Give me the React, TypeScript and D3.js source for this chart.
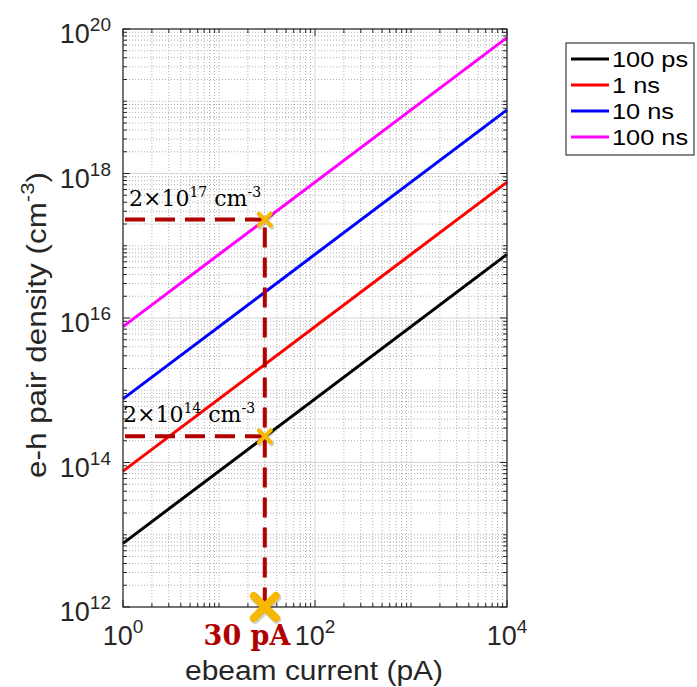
import React from "react";
import * as d3 from "d3";

const xDomain = [1, 10000];
const yDomain = [1e12, 1e20];
const currents = [1, 10000];
const seriesNames = ["100 ps", "1 ns", "10 ns", "100 ns"];
const seriesColors = ["#000000", "#ff0000", "#0000ff", "#ff00ff"];
const seriesValues = [
  [7.6e12, 7.6e16],
  [7.6e13, 7.6e17],
  [7.6e14, 7.6e18],
  [7.6e15, 7.6e19],
];
const xTickExps = [0, 2, 4];
const yTickExps = [12, 14, 16, 18, 20];
const markerCurrent = 30;
const markerDensities = [2.3e17, 2.3e14];
const markerLabels = [["2×10", "17", " cm", "-3"], ["2×10", "14", " cm", "-3"]];
const currentLabel = "30 pA";

const W = 697, H = 687;
const L = 123, R = 507, T = 29, B = 607;
const sans = "'Liberation Sans', Arial, Helvetica, sans-serif";
const serif = "'DejaVu Serif', 'Liberation Serif', serif";
const axisColor = "#262626";
const annColor = "#b00000";
const gold = "#f6b800";

export default function App() {
  const x = d3.scaleLog().domain(xDomain).range([L, R]);
  const y = d3.scaleLog().domain(yDomain).range([B, T]);
  const line = d3
    .line<[number, number]>()
    .x((d) => x(d[0]))
    .y((d) => y(d[1]));

  const xMinor: number[] = [];
  for (let e = 0; e < 4; e++) for (let k = 1; k <= 9; k++) xMinor.push(k * Math.pow(10, e));
  xMinor.push(1e4);
  const yMinor: number[] = [];
  for (let e = 12; e < 20; e++) for (let k = 1; k <= 9; k++) yMinor.push(k * Math.pow(10, e));
  yMinor.push(1e20);
  const xMajorVals = xTickExps.map((e) => Math.pow(10, e));
  const yMajorVals = yTickExps.map((e) => Math.pow(10, e));
  const isMajX = (v: number) => xMajorVals.some((m) => Math.abs(m - v) / m < 1e-9);
  const isMajY = (v: number) => yMajorVals.some((m) => Math.abs(m - v) / m < 1e-9);

  const cross = (cx: number, cy: number, s: number, w: number, key: string) => (
    <g key={key}>
      <path
        d={`M${cx - s + 1},${cy - s + 1.5}L${cx + s + 1},${cy + s + 1.5}M${cx - s + 1},${cy + s + 1.5}L${cx + s + 1},${cy - s + 1.5}`}
        stroke="rgba(0,0,0,0.18)"
        strokeWidth={w + 1}
        strokeLinecap="round"
      />
      <path
        d={`M${cx - s},${cy - s}L${cx + s},${cy + s}M${cx - s},${cy + s}L${cx + s},${cy - s}`}
        stroke={gold}
        strokeWidth={w}
        strokeLinecap="round"
      />
    </g>
  );

  const xm = x(markerCurrent);

  return (
    <svg
      width={W}
      height={H}
      style={{ position: "absolute", left: 0, top: 0, background: "#fff" }}
      fontFamily={sans}
    >
      <rect x={0} y={0} width={W} height={H} fill="#fff" />
      {/* grid */}
      <g>
        {xMinor.filter((v) => !isMajX(v)).map((v, i) => (
          <line key={"xm" + i} x1={x(v)} x2={x(v)} y1={T} y2={B} stroke="#b0b0b0" strokeWidth={1} strokeDasharray="1,2" />
        ))}
        {yMinor.filter((v) => !isMajY(v)).map((v, i) => (
          <line key={"ym" + i} x1={L} x2={R} y1={y(v)} y2={y(v)} stroke="#b0b0b0" strokeWidth={1} strokeDasharray="1,2" />
        ))}
        {xMajorVals.map((v, i) => (
          <line key={"xM" + i} x1={x(v)} x2={x(v)} y1={T} y2={B} stroke="#d6d6d6" strokeWidth={1} />
        ))}
        {yMajorVals.map((v, i) => (
          <line key={"yM" + i} x1={L} x2={R} y1={y(v)} y2={y(v)} stroke="#d6d6d6" strokeWidth={1} />
        ))}
      </g>
      {/* ticks */}
      <g stroke={axisColor} strokeWidth={1}>
        {xMinor.map((v, i) => {
          const len = isMajX(v) ? 7 : 4;
          return (
            <g key={"xt" + i}>
              <line x1={x(v)} x2={x(v)} y1={B} y2={B - len} />
              <line x1={x(v)} x2={x(v)} y1={T} y2={T + len} />
            </g>
          );
        })}
        {yMinor.map((v, i) => {
          const len = isMajY(v) ? 7 : 4;
          return (
            <g key={"yt" + i}>
              <line x1={L} x2={L + len} y1={y(v)} y2={y(v)} />
              <line x1={R} x2={R - len} y1={y(v)} y2={y(v)} />
            </g>
          );
        })}
      </g>
      {/* data lines */}
      {seriesValues.map((vals, i) => (
        <path
          key={"s" + i}
          d={line(currents.map((c, j) => [c, vals[j]] as [number, number])) || ""}
          stroke={seriesColors[i]}
          strokeWidth={3}
          fill="none"
        />
      ))}
      {/* axes box */}
      <rect x={L} y={T} width={R - L} height={B - T} fill="none" stroke={axisColor} strokeWidth={1.2} />
      {/* annotations */}
      <g stroke={annColor} strokeWidth={4} strokeDasharray="20,10" fill="none">
        {markerDensities.map((d, i) => (
          <line key={"h" + i} x1={L + 2} x2={xm} y1={y(d)} y2={y(d)} />
        ))}
        <line x1={xm} x2={xm} y1={y(markerDensities[0]) + 8} y2={B - 4} />
      </g>
      {markerDensities.map((d, i) => cross(xm, y(d), 6, 4, "c" + i))}
      {cross(xm, B, 11, 8, "cb")}
      {markerLabels.map((lab, i) => (
        <text key={"ml" + i} x={i === 0 ? 129 : 123} y={y(markerDensities[i]) - 14} fontFamily={serif} fontSize={22} fill="#000">
          {lab[0]}
          <tspan fontSize={14} dy={-9}>{lab[1]}</tspan>
          <tspan dy={9}>{lab[2]}</tspan>
          <tspan fontSize={14} dy={-9}>{lab[3]}</tspan>
        </text>
      ))}
      <text x={247} y={645} textAnchor="middle" fontFamily={serif} fontWeight="bold" fontSize={27} fill={annColor}>
        {currentLabel}
      </text>
      {/* x tick labels */}
      {xTickExps.map((e, i) => (
        <text key={"xl" + i} x={x(Math.pow(10, e))} y={645} textAnchor="middle" fontSize={27} fill={axisColor}>
          10<tspan fontSize={19} dy={-12}>{e}</tspan>
        </text>
      ))}
      {/* y tick labels */}
      {yTickExps.map((e, i) => (
        <text key={"yl" + i} x={111} y={y(Math.pow(10, e)) + 14} textAnchor="end" fontSize={27} fill={axisColor}>
          10<tspan fontSize={19} dy={-12}>{e}</tspan>
        </text>
      ))}
      {/* axis labels */}
      <text x={314} y={680} textAnchor="middle" fontSize={27} fill={axisColor} textLength={258} lengthAdjust="spacingAndGlyphs">
        ebeam current (pA)
      </text>
      <text
        transform={`translate(46,325) rotate(-90)`}
        textAnchor="middle"
        fontSize={27}
        fill={axisColor}
        textLength={306}
        lengthAdjust="spacingAndGlyphs"
      >
        e-h pair density (cm<tspan fontSize={19} dy={-12}>-3</tspan><tspan dy={12}>)</tspan>
      </text>
      {/* legend */}
      <g>
        <rect x={566} y={43} width={128} height={112} fill="#fff" stroke="#3a3a3a" strokeWidth={1.2} />
        {seriesNames.map((n, i) => {
          const ly = 59 + i * 26;
          return (
            <g key={"lg" + i}>
              <line x1={571} x2={609} y1={ly} y2={ly} stroke={seriesColors[i]} strokeWidth={3} />
              <text transform={`translate(612,${ly + 8}) scale(1.18,1.05)`} fontSize={21.5} fill="#000">
                {n}
              </text>
            </g>
          );
        })}
      </g>
    </svg>
  );
}
